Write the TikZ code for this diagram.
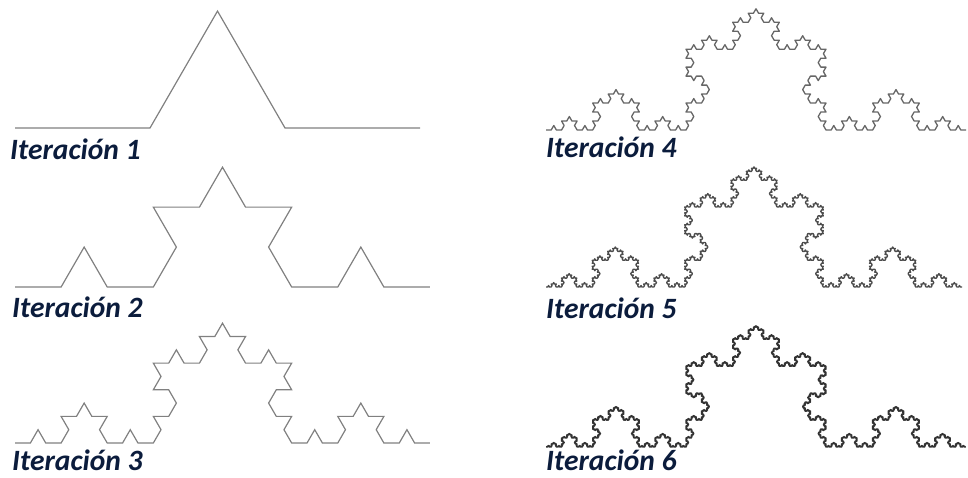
\documentclass[tikz,border=0pt]{standalone}
\usepackage{fontspec}
\setmainfont{Carlito}
\usetikzlibrary{lindenmayersystems}
\definecolor{navy}{HTML}{0B1C3C}
\tikzset{
  lbl/.style={anchor=base west, inner sep=0pt, text=navy, font=\fontsize{29.5}{29.5}\selectfont\bfseries\itshape},
  kochA/.style={draw=black!50, line width=1.2pt, line join=miter},
  kochB/.style={draw=black!60, line width=1.3pt, line join=round},
  kochC/.style={draw=black!70, line width=1.35pt, line join=round},
  kochD/.style={draw=black!80, line width=1.4pt, line join=round},
}
\pgfdeclarelindenmayersystem{KochUp}{\rule{F -> F+F--F+F}}
\begin{document}
\begin{tikzpicture}[x=1pt,y=-1pt]
\useasboundingbox (0,0) rectangle (968,477);
% left column
\begin{scope}[shift={(15,128)}]
\draw[kochA] [l-system={KochUp, axiom=F, order=1, step=135pt, angle=60}] lindenmayer system;
\end{scope}
\begin{scope}[shift={(15,287)}]
\draw[kochA] [l-system={KochUp, axiom=F, order=2, step=46.11pt, angle=60}] lindenmayer system;
\end{scope}
\begin{scope}[shift={(15,443)}]
\draw[kochA] [l-system={KochUp, axiom=F, order=3, step=15.37pt, angle=60}] lindenmayer system;
\end{scope}
% right column
\begin{scope}[shift={(546,130)}]
\draw[kochB] [l-system={KochUp, axiom=F, order=4, step=5.185pt, angle=60}] lindenmayer system;
\end{scope}
\begin{scope}[shift={(546,287)}]
\draw[kochC] [l-system={KochUp, axiom=F, order=5, step=1.712pt, angle=60}] lindenmayer system;
\end{scope}
\begin{scope}[shift={(546,447)}]
\draw[kochD] [l-system={KochUp, axiom=F, order=6, step=0.576pt, angle=60}] lindenmayer system;
\end{scope}
% labels
\node[lbl] (l1) at (10,159) {Iteración 1};
\node[lbl] (l2) at (12,317) {Iteración 2};
\node[lbl] (l3) at (12,470) {Iteración 3};
\node[lbl] (l4) at (546,157) {Iteración 4};
\node[lbl] (l5) at (546,318) {Iteración 5};
\node[lbl] (l6) at (546,470) {Iteración 6};
\end{tikzpicture}
\end{document}
